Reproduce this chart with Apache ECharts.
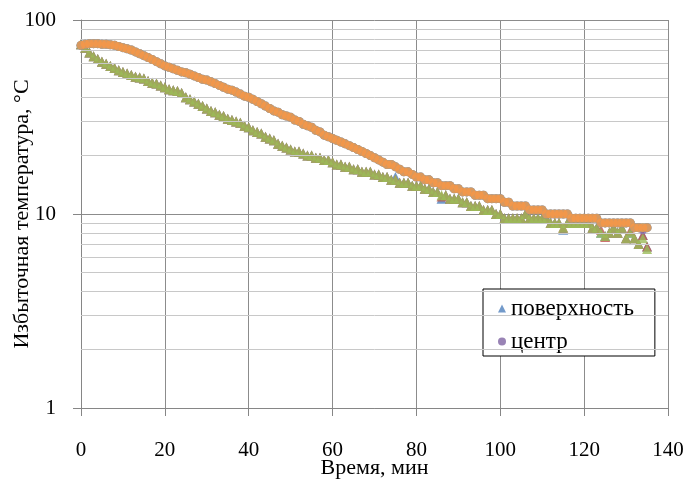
<!DOCTYPE html>
<html>
<head>
<meta charset="utf-8">
<script src="https://cdn.jsdelivr.net/npm/echarts@6/dist/echarts.min.js"></script>
<style>html,body{margin:0;padding:0;background:#fff}#c{width:686px;height:485px}</style>
</head>
<body>
<div id="c"></div>
<script>
// time, minutes (0..135, step 1)
const timeMin = [0,1,2,3,4,5,6,7,8,9,10,11,12,13,14,15,16,17,18,19,20,21,22,23,24,25,26,27,28,29,30,31,32,33,34,35,36,37,38,39,40,41,42,43,44,45,46,47,48,49,50,51,52,53,54,55,56,57,58,59,60,61,62,63,64,65,66,67,68,69,70,71,72,73,74,75,76,77,78,79,80,81,82,83,84,85,86,87,88,89,90,91,92,93,94,95,96,97,98,99,100,101,102,103,104,105,106,107,108,109,110,111,112,113,114,115,116,117,118,119,120,121,122,123,124,125,126,127,128,129,130,131,132,133,134,135];

// surface (triangles) - three overlaid measurements
const surfaceA = [75,72,68,65,63,61,59.5,58,56.5,55,54,53,52,51,50.5,50,48.5,47.5,47,46,45,44,43.5,43,42,40,39,38,37,36,35,34,33.5,32.5,32,31,30.5,30,29.5,28.5,28,27,26.5,26,25,24.5,24,23,22.5,22,21.5,21,21,20.5,20,20,19.5,19.5,19,19,18.5,18,18,17.5,17.5,17,17,16.5,16.5,16.5,16,16,15.5,15.5,15,15.5,14.5,14.5,14.5,14,14,14,13.5,13.5,13,13,12,12.5,12,12,12,11.5,11.5,11,11,11,10.5,10.5,10.5,10,10,9.5,9.5,9.5,9.5,9.5,10,9.5,9.5,9.5,9.5,9.5,9,9,9,8.3,9,9,9,9,9,9,8.5,8.5,8,7.7,8,8.5,8,8.5,7.5,8,7.5,7,7.8,6.8];
const surfaceB = [75,72,68,65,63,61,59.5,58,56.5,55,54,53,52,51,50.5,50,48.5,47.5,47,46,45,44,43.5,43,42,40,39,38,37,36,35,34,33.5,32.5,32,31,30.5,30,29.5,28.5,28,27,26.5,26,25,24.5,24,23,22.5,22,21.5,21,21,20.5,20,20,19.5,19.5,19,19,18.5,18,18,17.5,17.5,17,17,16.5,16.5,16.5,16,16,15.5,15.5,15,15,14.5,14.5,14.5,14,14,14,13.5,13.5,13,13,12.3,12.5,12,12,12,11.5,11.5,11,11,11,10.5,10.5,10.5,10,10,9.5,9.5,9.5,9.5,9.5,10,9.5,9.5,9.5,9.5,9.5,9,9,9,8.5,9,9,9,9,9,9,8.5,8.5,8.3,7.6,8,8.5,8,8.5,7.5,8.2,7.5,7,7.8,6.8];
const surfaceC = [75,72,68,65,63,61,59.5,58,56.5,55,54,53,52,51,50.5,50,48.5,47.5,47,46,45,44,43.5,43,42,40,39,38,37,36,35,34,33.5,32.5,32,31,30.5,30,29.5,28.5,28,27,26.5,26,25,24.5,24,23,22.5,22,21.5,21,21,20.5,20,20,19.5,19.5,19,19,18.5,18,18,17.5,17.5,17,17,16.5,16.5,16.5,16,16,15.5,15.5,15,15,14.5,14.5,14.5,14,14,14,13.5,13.5,13,13,12.5,12.5,12,12,12,11.5,11.5,11,11,11,10.5,10.5,10.5,10,10,9.5,9.5,9.5,9.5,9.5,10,9.5,9.5,9.5,9.5,9.5,9,9,9,8.5,9,9,9,9,9,9,8.5,8.5,8,7.7,8,8.5,8,8.5,7.5,8,7.5,7,7.5,6.6];

// center (circles) - three overlaid measurements
const centerA = [74,75,75.5,75.5,75.5,75,75,74.5,74,73,72,71,70,68.5,67,65.5,64,62.5,61,59.5,58,57,56,55,54,53.5,52.5,51.5,50.5,49.5,49,48,47,46,45,44,43.5,42.5,41.5,40.5,40,39,38,37,36,35,34,33.5,32.5,32,31.5,30.5,30,29,28.5,28,27,26.5,25.5,25,24.5,24,23.5,23,22.5,22,21.5,21,20.5,20,19.5,19,18.5,18,18,17.5,17,16.5,16.5,16,15.5,15.5,15,15,14.5,14.5,14,14,14,13.5,13.5,13,13,13,12.5,12.5,12.5,12,12,12,12,11.5,11.5,11,11,11,11,10.5,10.5,10.5,10.5,10,10,10,10,10,10,9.5,9.5,9.5,9.5,9.5,9.5,9.5,9,9,9,9,9,9,9,9,8.5,8.5,8.3,8.5];
const centerB = [74,75,75.5,75.5,75.5,75,75,74.5,74,73,72,71,70,68.5,67,65.5,64,62.5,61,59.5,58,57,56,55,54,53.5,52.5,51.5,50.5,49.5,49,48,47,46,45,44,43.5,42.5,41.5,40.5,40,39,38,37,36,35,34,33.5,32.5,32,31.5,30.5,30,29,28.5,28,27,26.5,25.5,25,24.5,24,23.5,23,22.5,22,21.5,21,20.5,20,19.5,19,18.5,18,18,17.5,17,16.5,16.5,16,15.5,15.5,15,15,14.5,14.5,14,14,14,13.5,13.5,13,13,13,12.5,12.5,12.5,12,12,12,12,11.5,11.5,11,11,11,11,10.5,10.5,10.5,10.5,10,10,10,10,10,10,9.5,9.5,9.5,9.5,9.5,9.5,9.5,9,9,9,9,9,9,9,9,8.5,8.5,8.5,8.5];
const centerC = [74,75,75.5,75.5,75.5,75,75,74.5,74,73,72,71,70,68.5,67,65.5,64,62.5,61,59.5,58,57,56,55,54,53.5,52.5,51.5,50.5,49.5,49,48,47,46,45,44,43.5,42.5,41.5,40.5,40,39,38,37,36,35,34,33.5,32.5,32,31.5,30.5,30,29,28.5,28,27,26.5,25.5,25,24.5,24,23.5,23,22.5,22,21.5,21,20.5,20,19.5,19,18.5,18,18,17.5,17,16.5,16.5,16,15.5,15.5,15,15,14.5,14.5,14,14,14,13.5,13.5,13,13,13,12.5,12.5,12.5,12,12,12,12,11.5,11.5,11,11,11,11,10.5,10.5,10.5,10.5,10,10,10,10,10,10,9.5,9.5,9.5,9.5,9.5,9.5,9.5,9,9,9,9,9,9,9,9,8.5,8.5,8.5,8.5];

const legendNames = ['поверхность', 'центр'];
const xTicks = [0,20,40,60,80,100,120,140];
const yDecades = [1,10,100];
const minorSteps = [2,3,4,5,6,7,8,9];

const pairs = (xs, ys) => xs.map((x, i) => [x, ys[i]]);
const minorVals = [];
yDecades.slice(0, -1).forEach(d => minorSteps.forEach(m => minorVals.push(d * m)));

const font = 'Liberation Serif';
const chart = echarts.init(document.getElementById('c'), null, {renderer: 'canvas'});

function sc(name, data, symbol, color, size, z) {
  return {
    name: name, type: 'scatter', data: data, symbol: symbol, symbolSize: size,
    itemStyle: {color: color}, z: z, animation: false
  };
}

chart.setOption({
  animation: false,
  backgroundColor: '#fff',
  grid: {left: 81, right: 18, top: 20, bottom: 77, containLabel: false, outerBoundsMode: 'none'},
  legend: {
    data: [{name: legendNames[0], icon: 'triangle'}, {name: legendNames[1], icon: 'circle'}],
    orient: 'vertical', left: 483, top: 289, align: 'left',
    padding: [8, 21, 3, 15], itemGap: 10, itemWidth: 8, itemHeight: 8,
    backgroundColor: '#fff', borderColor: '#000', borderWidth: 1,
    textStyle: {fontFamily: font, fontSize: 23, color: '#000'}
  },
  xAxis: {
    type: 'value', min: xTicks[0], max: xTicks[xTicks.length - 1], interval: 20,
    name: 'Время, мин', nameLocation: 'middle', nameGap: 49, nameMoveOverlap: false,
    nameTextStyle: {fontFamily: font, fontSize: 22, color: '#000'},
    axisLine: {show: true, onZero: false, lineStyle: {color: '#868686'}},
    axisTick: {show: true, length: 8, lineStyle: {color: '#868686'}},
    axisLabel: {fontFamily: font, fontSize: 21, color: '#000', margin: 32},
    splitLine: {show: true, lineStyle: {color: '#8c8c8c'}}
  },
  yAxis: {
    type: 'log', logBase: 10, min: yDecades[0], max: yDecades[yDecades.length - 1],
    name: 'Избыточная температура, °С', nameLocation: 'middle', nameGap: 48, nameMoveOverlap: false,
    nameTextStyle: {fontFamily: font, fontSize: 22, color: '#000'},
    axisLine: {show: true, lineStyle: {color: '#868686'}},
    axisTick: {show: true, length: 8, lineStyle: {color: '#868686'}},
    axisLabel: {fontFamily: font, fontSize: 21, color: '#000', margin: 25},
    splitLine: {show: true, lineStyle: {color: '#8c8c8c'}}
  },
  series: [
    {
      type: 'scatter', data: [], silent: true, z: 1,
      markLine: {
        silent: true, symbol: 'none', label: {show: false}, animation: false,
        lineStyle: {color: '#c8c8c8', type: 'solid', width: 1},
        data: minorVals.map(v => ({yAxis: v}))
      }
    },
    sc(legendNames[0], pairs(timeMin, surfaceA), 'triangle', '#4F81BD', 10, 2),
    sc('s2', pairs(timeMin, surfaceB), 'triangle', '#C0504D', 10, 3),
    sc('s3', pairs(timeMin, surfaceC), 'triangle', '#9BBB59', 10, 4),
    sc(legendNames[1], pairs(timeMin, centerA), 'circle', '#8064A2', 9, 5),
    sc('c2', pairs(timeMin, centerB), 'circle', '#4BACC6', 9, 6),
    sc('c3', pairs(timeMin, centerC), 'circle', '#F79646', 9, 7)
  ]
});
</script>
</body>
</html>
